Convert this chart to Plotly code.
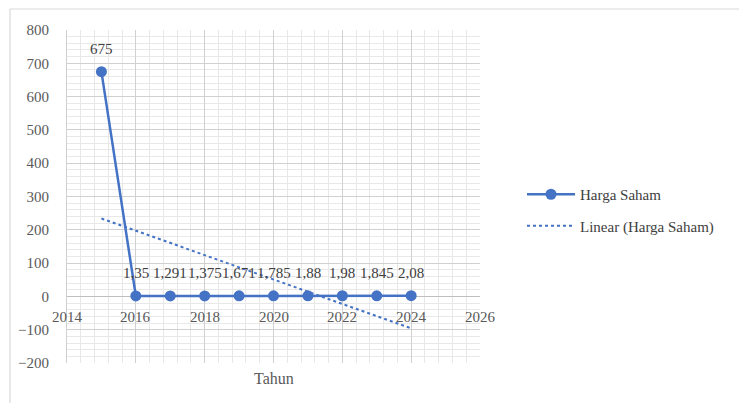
import numpy as np
import plotly.graph_objects as go

years = [2015, 2016, 2017, 2018, 2019, 2020, 2021, 2022, 2023, 2024]
harga_saham = [675, 1.35, 1.291, 1.375, 1.671, 1.785, 1.88, 1.98, 1.845, 2.08]
x_ticks = [2014, 2016, 2018, 2020, 2022, 2024, 2026]
y_ticks = [-200, -100, 0, 100, 200, 300, 400, 500, 600, 700, 800]

labels = [str(v).replace('.', ',') for v in harga_saham]

# linear trendline (least squares fit of the series)
slope, intercept = np.polyfit(years, harga_saham, 1)
trend_x = [years[0], years[-1]]
trend_y = [slope * x + intercept for x in trend_x]

BLUE = '#4472C4'
FONT = 'Liberation Serif'

W, H = 739, 403
L, R, T, B = 67, 739 - 480, 30, 40
pw, ph = W - L - R, H - T - B

def px2paper_x(px):
    return (px - L) / pw

def px2paper_y(py):
    return (H - B - py) / ph

fig = go.Figure()
fig.add_trace(go.Scatter(
    x=years, y=harga_saham, mode='lines+markers', name='Harga Saham',
    line=dict(color=BLUE, width=2.5), marker=dict(size=11, color=BLUE),
    legendgroup='a', cliponaxis=False,
))
fig.add_trace(go.Scatter(
    x=trend_x, y=trend_y, mode='lines', name='Linear (Harga Saham)',
    line=dict(color=BLUE, width=2, dash='dot'), legendgroup='b',
))

# data labels
for xv, yv, lab in zip(years, harga_saham, labels):
    fig.add_annotation(x=xv, y=yv, xref='x', yref='y', text=lab, showarrow=False,
                       yanchor='middle', yshift=23,
                       font=dict(family=FONT, size=15, color='#404040'))

for xv in x_ticks:
    fig.add_annotation(x=xv, y=0, xref='x', yref='y', text=str(xv), showarrow=False,
                       yanchor='middle', yshift=-21,
                       font=dict(family=FONT, size=15, color='#595959'))

fig.add_annotation(x=0.5, y=px2paper_y(378), xref='paper', yref='paper', text='Tahun',
                   showarrow=False, yanchor='middle',
                   font=dict(family=FONT, size=16, color='#595959'))

# chart area border (left and top edges visible)
fig.add_shape(type='line', xref='paper', yref='paper',
              x0=px2paper_x(10), x1=px2paper_x(10), y0=px2paper_y(9), y1=px2paper_y(410),
              line=dict(color='#d9d9d9', width=1.2))
fig.add_shape(type='line', xref='paper', yref='paper',
              x0=px2paper_x(10), x1=px2paper_x(745), y0=px2paper_y(9), y1=px2paper_y(9),
              line=dict(color='#d9d9d9', width=1.2))

fig.update_layout(
    width=W, height=H, margin=dict(l=L, r=R, t=T, b=B),
    paper_bgcolor='white', plot_bgcolor='white',
    font=dict(family=FONT, size=15, color='#595959'),
    showlegend=True,
    legend=dict(x=px2paper_x(522), y=px2paper_y(178), xanchor='left', yanchor='top',
                font=dict(family=FONT, size=15, color='#404040'),
                itemwidth=48, tracegroupgap=9, bgcolor='rgba(0,0,0,0)'),
)
fig.update_xaxes(range=[2014, 2026], tickvals=x_ticks, showticklabels=False,
                 showgrid=True, gridcolor='#d0d0d0', gridwidth=1,
                 minor=dict(dtick=0.4, tick0=2014, showgrid=True, gridcolor='#e8e8e8', gridwidth=1),
                 zeroline=False, showline=False, fixedrange=True)
fig.update_yaxes(range=[-200, 800], tickvals=y_ticks, showgrid=True,
                 gridcolor='#d0d0d0', gridwidth=1,
                 minor=dict(dtick=20, tick0=0, showgrid=True, gridcolor='#e8e8e8', gridwidth=1),
                 zeroline=True, zerolinecolor='#bfbfbf', zerolinewidth=1.3,
                 showline=True, linecolor='#d0d0d0', linewidth=1,
                 ticklabelstandoff=14, tickfont=dict(family=FONT, size=15, color='#595959'),
                 fixedrange=True)

fig.write_html('out.html')
